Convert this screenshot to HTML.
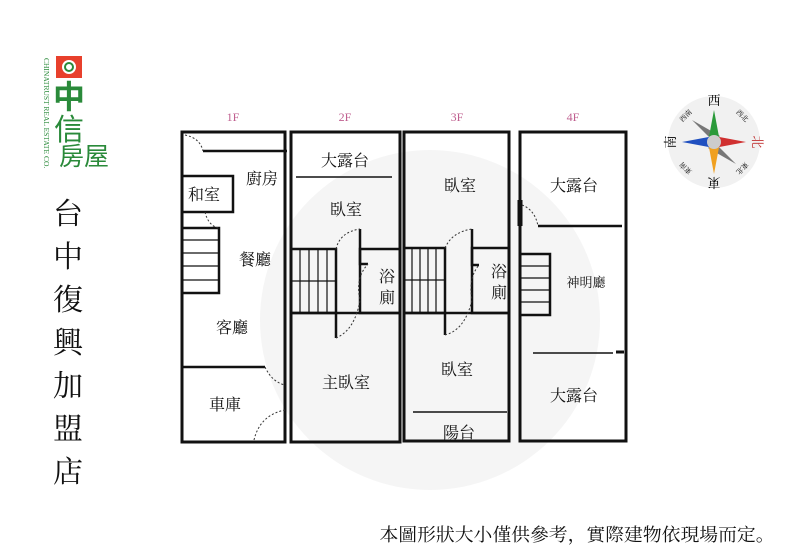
<!DOCTYPE html>
<html><head><meta charset="utf-8"><style>
body{margin:0;background:#fff;}
svg{display:block;font-family:"Liberation Serif","Noto Serif CJK SC",serif;}
</style></head><body>
<svg width="800" height="553" viewBox="0 0 800 553" xmlns="http://www.w3.org/2000/svg">
<rect width="800" height="553" fill="#fff"/>
<circle cx="430" cy="320" r="170" fill="#f5f5f5"/>
<!-- logo -->
<rect x="56" y="56" width="26" height="22" fill="#e8402c"/>
<circle cx="69" cy="67" r="7" fill="#fff"/><circle cx="69" cy="67" r="4" fill="none" stroke="#2a8a3a" stroke-width="2"/>
<text x="69" y="108" font-size="32" fill="#2a8a3a" text-anchor="middle" font-family="Liberation Sans,'Noto Sans CJK TC',sans-serif" font-weight="bold">中</text>
<text x="69" y="140" font-size="30" fill="#2a8a3a" text-anchor="middle" font-family="Liberation Sans,'Noto Sans CJK TC',sans-serif">信</text>
<text x="84" y="165" font-size="25" fill="#2a8a3a" text-anchor="middle" font-family="Liberation Sans,'Noto Sans CJK TC',sans-serif">房屋</text>
<text transform="translate(44,58) rotate(90)" font-size="7.5" fill="#2a8a3a" font-family="Liberation Serif,serif">CHINATRUST REAL ESTATE CO.</text>
<!-- vertical title -->
<g font-size="30" text-anchor="middle" fill="#111">
<text x="68" y="224">台</text><text x="68" y="267">中</text><text x="68" y="310">復</text><text x="68" y="353">興</text><text x="68" y="396">加</text><text x="68" y="439">盟</text><text x="68" y="482">店</text>
</g>
<!-- compass -->
<circle cx="714" cy="142" r="46" fill="#f1f1f1"/>
<polygon points="714,142 708,136 692,120 720,136" fill="#777"/>
<polygon points="714,142 720,148 736,164 708,148" fill="#777"/>
<polygon points="714,142 720,136 736,120 708,148" fill="#999"/>
<polygon points="714,142 708,148 692,164 720,136" fill="#999"/>
<polygon points="708,142 714,110 720,142" fill="#2a9a3a"/>
<polygon points="708,142 714,174 720,142" fill="#f0a020"/>
<polygon points="714,136 682,142 714,148" fill="#2050c0"/>
<polygon points="714,136 746,142 714,148" fill="#d03030"/>
<circle cx="714" cy="142" r="7" fill="#ccc"/>
<text x="714" y="105" font-size="13" text-anchor="middle">西</text>
<text x="714" y="188" font-size="13" text-anchor="middle" transform="rotate(180 714 183)">東</text>
<text x="758" y="147" font-size="13" fill="#c03030" text-anchor="middle" transform="rotate(90 758 142)">北</text>
<text x="670" y="147" font-size="13" text-anchor="middle" transform="rotate(-90 670 142)">南</text>
<text x="686" y="118" font-size="7" text-anchor="middle" transform="rotate(-45 686 116)">西南</text>
<text x="742" y="118" font-size="7" text-anchor="middle" transform="rotate(45 742 116)">西北</text>
<text x="686" y="170" font-size="7" text-anchor="middle" transform="rotate(-135 686 168)">東南</text>
<text x="742" y="170" font-size="7" text-anchor="middle" transform="rotate(135 742 168)">東北</text>
<!-- floor labels -->
<g font-size="12" fill="#c06090" text-anchor="middle">
<text x="233" y="121">1F</text><text x="345" y="121">2F</text><text x="457" y="121">3F</text><text x="573" y="121">4F</text>
</g>
<g fill="none" stroke="#111" stroke-width="3">
<rect x="182" y="132" width="103" height="310"/>
<rect x="291" y="132" width="109" height="310"/>
<rect x="404" y="132" width="105" height="309"/>
<rect x="520" y="132" width="106" height="309"/>
</g>
<g stroke="#111" stroke-width="2.5" fill="none">
<line x1="203" y1="151" x2="287" y2="151"/>
<rect x="182" y="176" width="51" height="36"/>
<rect x="182" y="228" width="37" height="65"/>
<line x1="182" y1="367" x2="265" y2="367"/>
<line x1="296" y1="177" x2="392" y2="177" stroke-width="1.5"/>
<rect x="291" y="249" width="45" height="64"/>
<polyline points="336,313 336,338"/>
<polyline points="360,229 360,264 368,264"/>
<rect x="360" y="249" width="40" height="64"/>
<line x1="291" y1="313" x2="400" y2="313"/>
<rect x="404" y="248" width="41" height="65"/>
<polyline points="445,313 445,335"/>
<polyline points="472,229 472,265 479,265"/>
<rect x="472" y="248" width="37" height="65"/>
<line x1="404" y1="313" x2="509" y2="313"/>
<line x1="413" y1="412" x2="507" y2="412" stroke-width="1.5"/>
<line x1="538" y1="226" x2="622" y2="226"/>
<rect x="520" y="254" width="30" height="61"/>
<line x1="533" y1="353" x2="613" y2="353" stroke-width="1.5"/>
<line x1="616" y1="352" x2="624" y2="352" stroke-width="3"/>
<line x1="520" y1="200" x2="520" y2="226" stroke-width="5"/>
</g>
<g stroke="#111" stroke-width="1.2">
<line x1="182" y1="240" x2="219" y2="240"/><line x1="182" y1="253" x2="219" y2="253"/><line x1="182" y1="266" x2="219" y2="266"/><line x1="182" y1="280" x2="219" y2="280"/>
<line x1="300" y1="249" x2="300" y2="313"/><line x1="309" y1="249" x2="309" y2="313"/><line x1="318" y1="249" x2="318" y2="313"/><line x1="327" y1="249" x2="327" y2="313"/><line x1="291" y1="281" x2="336" y2="281"/>
<line x1="412" y1="248" x2="412" y2="313"/><line x1="420" y1="248" x2="420" y2="313"/><line x1="428" y1="248" x2="428" y2="313"/><line x1="436" y1="248" x2="436" y2="313"/><line x1="404" y1="280" x2="445" y2="280"/>
<line x1="520" y1="266" x2="550" y2="266"/><line x1="520" y1="278" x2="550" y2="278"/><line x1="520" y1="290" x2="550" y2="290"/><line x1="520" y1="302" x2="550" y2="302"/>
</g>
<g fill="none" stroke="#333" stroke-width="1" stroke-dasharray="2,2">
<path d="M185 135 Q200 138 203 151"/>
<path d="M205 212 Q208 225 218 228"/>
<path d="M265 367 Q272 382 285 385"/>
<path d="M254 440 Q260 415 285 410"/>
<path d="M336 249 Q340 232 360 229"/>
<path d="M336 338 Q355 330 360 300 Q355 278 368 264"/>
<path d="M445 248 Q452 232 472 229"/>
<path d="M445 335 Q465 330 472 300 Q468 278 479 265"/>
<path d="M522 205 Q535 210 538 226"/>
</g>
<g font-size="16" fill="#111" text-anchor="middle">
<text x="204" y="200">和室</text><text x="262" y="184">廚房</text><text x="255" y="265">餐廳</text><text x="232" y="333">客廳</text><text x="225" y="410">車庫</text>
<text x="345" y="166">大露台</text><text x="346" y="215">臥室</text><text x="387" y="282">浴</text><text x="387" y="303">廁</text><text x="346" y="388">主臥室</text>
<text x="460" y="191">臥室</text><text x="499" y="277">浴</text><text x="499" y="298">廁</text><text x="457" y="375">臥室</text><text x="459" y="438">陽台</text>
<text x="574" y="191">大露台</text><text x="586" y="287" font-size="13">神明廳</text><text x="574" y="401">大露台</text>
</g>
<text x="577" y="541" font-size="18" text-anchor="middle" fill="#111" textLength="395" lengthAdjust="spacingAndGlyphs">本圖形狀大小僅供參考，實際建物依現場而定。</text>
</svg>
</body></html>
